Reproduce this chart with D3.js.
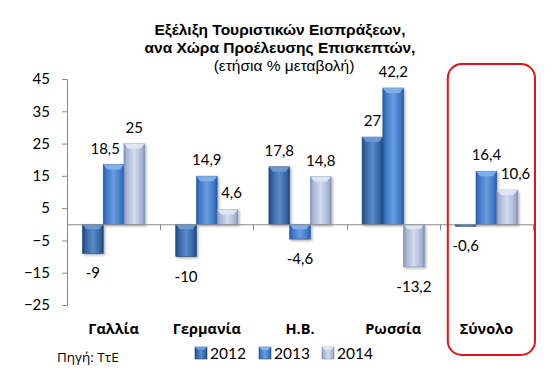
<!DOCTYPE html>
<html><head><meta charset="utf-8">
<script src="https://cdn.jsdelivr.net/npm/d3@7"></script>
<style>
body{margin:0;background:#fff;}
svg{display:block;}
</style></head>
<body><svg id="c" width="556" height="381"></svg>
<script>
const categories = ["Γαλλία", "Γερμανία", "Η.Β.", "Ρωσσία", "Σύνολο"];
const seriesNames = ["2012", "2013", "2014"];
const values2012 = [-9, -10, 17.8, 27, -0.6];
const values2013 = [18.5, 14.9, -4.6, 42.2, 16.4];
const values2014 = [25, 4.6, 14.8, -13.2, 10.6];
const yTicks = [45, 35, 25, 15, 5, -5, -15, -25];
const titleLines = ["Εξέλιξη Τουριστικών Εισπράξεων,", "ανα Χώρα Προέλευσης Επισκεπτών,", "(ετήσια % μεταβολή)"];
const sourceText = "Πηγή: ΤτΕ";

const seriesValues = [values2012, values2013, values2014];
const palette = [
  {base:"#2f5f9f", light:"#5a8bc9", dark:"#1e4377", top:"#6f9bd6"},
  {base:"#3a75c4", light:"#6a9de0", dark:"#27579c", top:"#86b2ec"},
  {base:"#a5b4d4", light:"#d3dcee", dark:"#7f8fb4", top:"#e2e8f5"}
];
const numFont = "Lato, 'Open Sans', 'Noto Sans', sans-serif";
const greekFont = "'Open Sans', 'Noto Sans', sans-serif";
const titleFont = "'Liberation Sans', Arial, sans-serif";

const svg = d3.select("#c");
const defs = svg.append("defs");
palette.forEach((p,i)=>{
  const g = defs.append("linearGradient").attr("id","g"+i).attr("x1","0").attr("x2","1").attr("y1","0").attr("y2","0");
  g.append("stop").attr("offset","0").attr("stop-color",p.dark);
  g.append("stop").attr("offset","0.12").attr("stop-color",p.base);
  g.append("stop").attr("offset","0.5").attr("stop-color",p.light);
  g.append("stop").attr("offset","0.88").attr("stop-color",p.base);
  g.append("stop").attr("offset","1").attr("stop-color",p.dark);
});
const f = defs.append("filter").attr("id","sh").attr("x","-20%").attr("y","-20%").attr("width","150%").attr("height","150%");
f.append("feDropShadow").attr("dx",1.5).attr("dy",1.5).attr("stdDeviation",1.2).attr("flood-color","#000").attr("flood-opacity",0.3);

const x0 = d3.scaleBand().domain(categories).range([67, 533]).padding(0);
const x1 = d3.scaleBand().domain(seriesNames).range([0, x0.bandwidth()]).paddingInner(0).paddingOuter(0.75);
const y = d3.scaleLinear().domain([-25, 45]).range([305, 79]);

// Y axis
const yAxis = d3.axisLeft(y).tickValues(yTicks).tickSize(5).tickPadding(12).tickFormat(d3.format("d"));
const yg = svg.append("g").attr("transform","translate(67,0)").call(yAxis);
yg.select(".domain").attr("stroke","#8a8a8a").attr("d","M-5,79.5H0.5V305.5H-5");
yg.selectAll(".tick line").attr("stroke","#8a8a8a");
yg.selectAll(".tick text").attr("font-family",numFont).attr("font-size",15).attr("fill","#000");

// bars
const data = [];
categories.forEach((c,ci)=>seriesNames.forEach((s,si)=>data.push({c, s, si, v: seriesValues[si][ci]})));
const bars = svg.append("g");
data.forEach(d=>{
  const bx = x0(d.c) + x1(d.s), bw = x1.bandwidth();
  const yt = y(Math.max(0,d.v)), yb = y(Math.min(0,d.v));
  const h = Math.max(yb-yt, 1);
  const p = palette[d.si];
  const g = bars.append("g").attr("filter","url(#sh)");
  g.append("rect").attr("x",bx).attr("y",yt).attr("width",bw).attr("height",h).attr("fill","url(#g"+d.si+")").attr("stroke",p.dark).attr("stroke-width",0.6);
  const bev = Math.min(5, h/2);
  g.append("path").attr("d",`M${bx},${yt}H${bx+bw}L${bx+bw-4},${yt+bev}H${bx+4}Z`).attr("fill",p.top).attr("opacity",0.9);
  d.bx = bx; d.bw = bw; d.yt = yt; d.yb = yt + h;
});

// zero line with category ticks
const xAxis = d3.axisBottom(x0).tickSize(0).tickFormat("");
const xg = svg.append("g").attr("transform",`translate(0,${y(0)})`).call(xAxis);
xg.select(".domain").attr("stroke","#8a8a8a");
const bounds = [x0.range()[0]].concat(categories.map(c=>x0(c)+x0.bandwidth()));
xg.selectAll("line.ct").data(bounds.slice(1)).enter().append("line").attr("class","ct")
  .attr("x1",d=>Math.round(d)+0.5).attr("x2",d=>Math.round(d)+0.5).attr("y1",0).attr("y2",6).attr("stroke","#8a8a8a");

// category labels
svg.append("g").selectAll("text").data(categories).enter().append("text")
  .attr("x",d=>x0(d)+x0.bandwidth()/2).attr("y",334).attr("text-anchor","middle")
  .attr("font-family",greekFont).attr("font-weight","bold").attr("font-size",14.5).attr("fill","#000").text(d=>d);

// value labels
const fmt = v => String(v).replace(".", ",");
const lg = svg.append("g");
data.forEach(d=>{
  const t = lg.append("text").attr("font-family",numFont).attr("font-size",15).attr("fill","#000")
    .attr("text-anchor","middle").text(fmt(d.v));
  const cx = d.bx + d.bw/2;
  const by = d.v >= 0 ? d.yt - 11 : d.yb + 25;
  t.attr("x",cx).attr("y",by);
  const bb = t.node().getBBox();
  // avoid overlapping sibling bars in the same group
  let shift = 0;
  data.filter(o=>o.c===d.c && o!==d).forEach(o=>{
    const overlapY = bb.y < o.yb && bb.y + bb.height > o.yt;
    const overlapX = bb.x < o.bx + o.bw && bb.x + bb.width > o.bx;
    if (overlapX && overlapY) {
      if (o.si > d.si) shift = Math.min(shift, o.bx - 4 - (bb.x + bb.width));
      else shift = Math.max(shift, o.bx + o.bw + 4 - bb.x);
    }
  });
  t.attr("x", cx + shift);
});

// title
svg.append("g").selectAll("text").data(titleLines).enter().append("text")
  .attr("x",(d,i)=>i<2?280:284).attr("y",(d,i)=>35+i*18).attr("text-anchor","middle")
  .attr("font-family",titleFont).attr("font-weight",(d,i)=>i<2?"bold":"normal")
  .attr("font-size",15.5).attr("fill","#000").text(d=>d);

// legend
const leg = svg.append("g");
const legX = [195, 259, 322];
seriesNames.forEach((s,i)=>{
  const p = palette[i];
  leg.append("rect").attr("x",legX[i]).attr("y",347).attr("width",12).attr("height",12).attr("fill","url(#g"+i+")").attr("stroke",p.dark).attr("stroke-width",0.6);
  leg.append("path").attr("d",`M${legX[i]},347h12l-3,3h-6z`).attr("fill",p.top);
  leg.append("text").attr("x",legX[i]+15).attr("y",359).attr("font-family",numFont).attr("font-size",15.5).attr("fill","#000").text(s);
});

// source
svg.append("text").attr("x",57).attr("y",362).attr("font-family",greekFont).attr("font-size",13.5).attr("fill","#000").text(sourceText);

// highlight box
const bx0 = x0("Σύνολο");
svg.append("rect").attr("x",bx0 + 8).attr("y",64).attr("width",x0.bandwidth()-6).attr("height",291).attr("rx",14).attr("ry",14)
  .attr("fill","none").attr("stroke","#e3141b").attr("stroke-width",2);
</script></body></html>
